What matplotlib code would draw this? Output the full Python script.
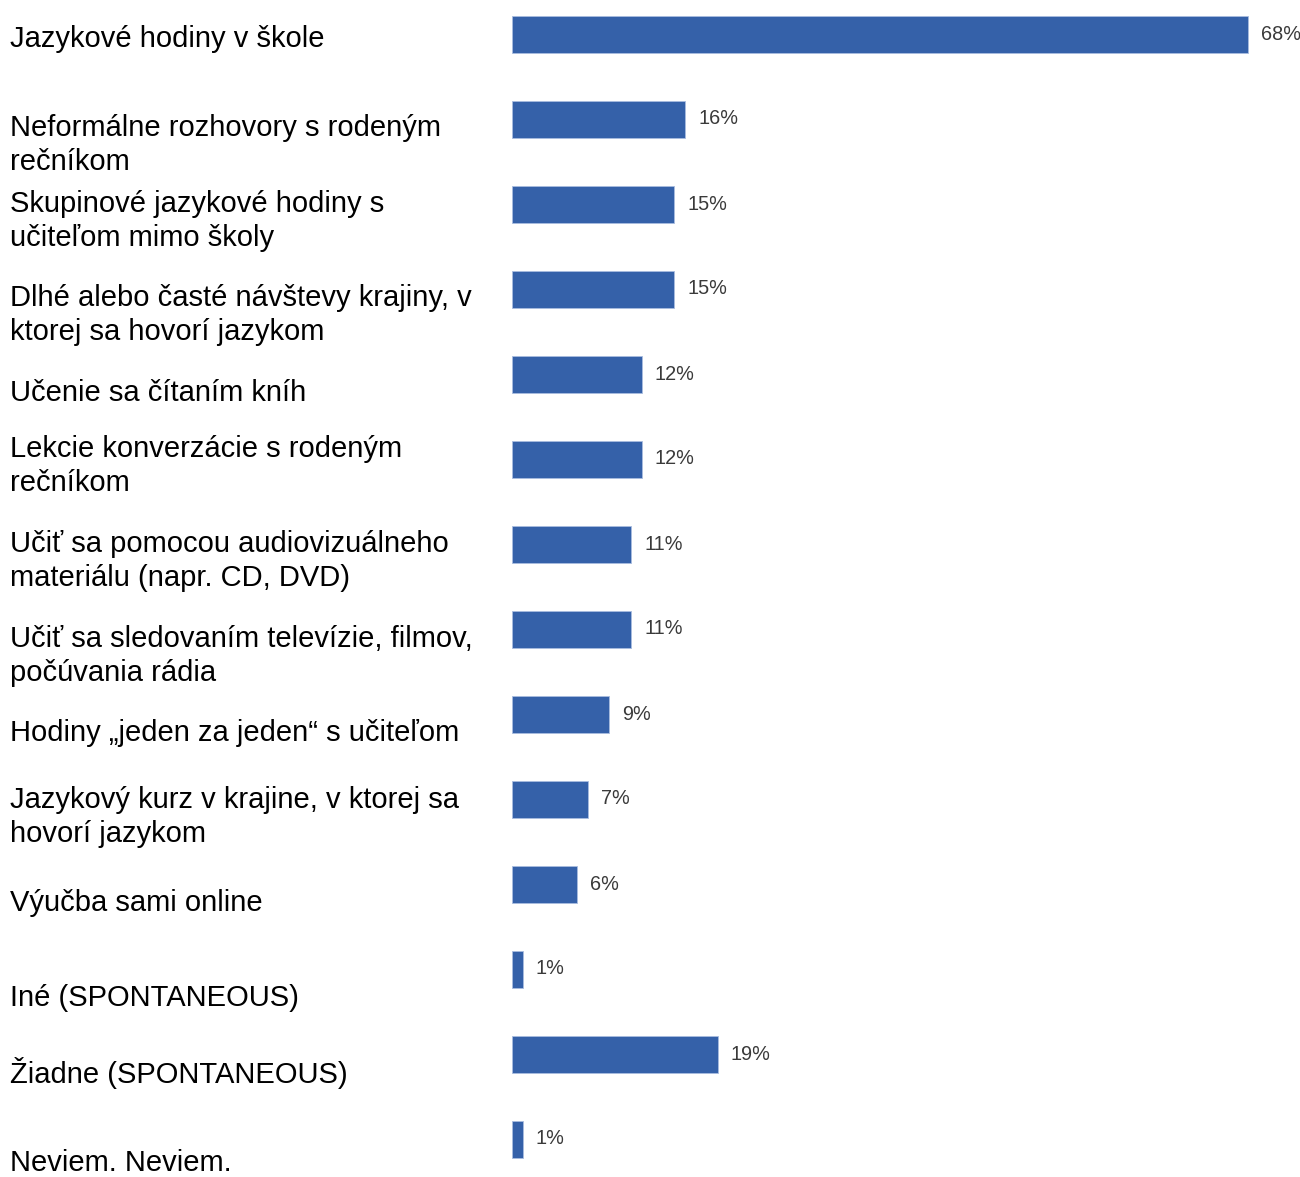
import matplotlib.pyplot as plt

plt.rcParams['font.family'] = ['Liberation Sans', 'DejaVu Sans']

categories = [
    "Jazykové hodiny v škole",
    "Neformálne rozhovory s rodeným\nrečníkom",
    "Skupinové jazykové hodiny s\nučiteľom mimo školy",
    "Dlhé alebo časté návštevy krajiny, v\nktorej sa hovorí jazykom",
    "Učenie sa čítaním kníh",
    "Lekcie konverzácie s rodeným\nrečníkom",
    "Učiť sa pomocou audiovizuálneho\nmateriálu (napr. CD, DVD)",
    "Učiť sa sledovaním televízie, filmov,\npočúvania rádia",
    "Hodiny „jeden za jeden“ s učiteľom",
    "Jazykový kurz v krajine, v ktorej sa\nhovorí jazykom",
    "Výučba sami online",
    "Iné (SPONTANEOUS)",
    "Žiadne (SPONTANEOUS)",
    "Neviem. Neviem.",
]
values = [68, 16, 15, 15, 12, 12, 11, 11, 9, 7, 6, 1, 19, 1]

# vertical centre of each category label block, in figure pixels from the top
label_y_px = [39, 145, 221, 315, 393, 466, 561, 656, 733, 817, 903, 998, 1073, 1163]

W, H = 1300, 1177
fig = plt.figure(figsize=(W / 100, H / 100), dpi=100)
left_px = 512
ax = fig.add_axes([left_px / W, 0, 1 - left_px / W, 1])

px_per_pct = (1248 - 512) / 68
ax.set_xlim(0, (W - left_px) / px_per_pct)
ax.set_ylim((H - 34) / 85, -34 / 85)

ypos = list(range(len(values)))
ax.barh(ypos, values, height=37 / 85, color='#3561a9', edgecolor='#a9bde0', linewidth=0.6)

for y, v in zip(ypos, values):
    ax.text(v + 13 / px_per_pct, y, f"{v}%", ha='left', va='center',
            fontsize=14.3, color='#3a3a3a', clip_on=False,
            family=['Liberation Sans Narrow', 'Liberation Sans', 'DejaVu Sans'])

for lab, ypx in zip(categories, label_y_px):
    fig.text(10 / W, 1 - ypx / H, lab, ha='left', va='center', fontsize=21,
             color='black', linespacing=1.24)

ax.axis('off')
fig.savefig('out.png', dpi=100)
